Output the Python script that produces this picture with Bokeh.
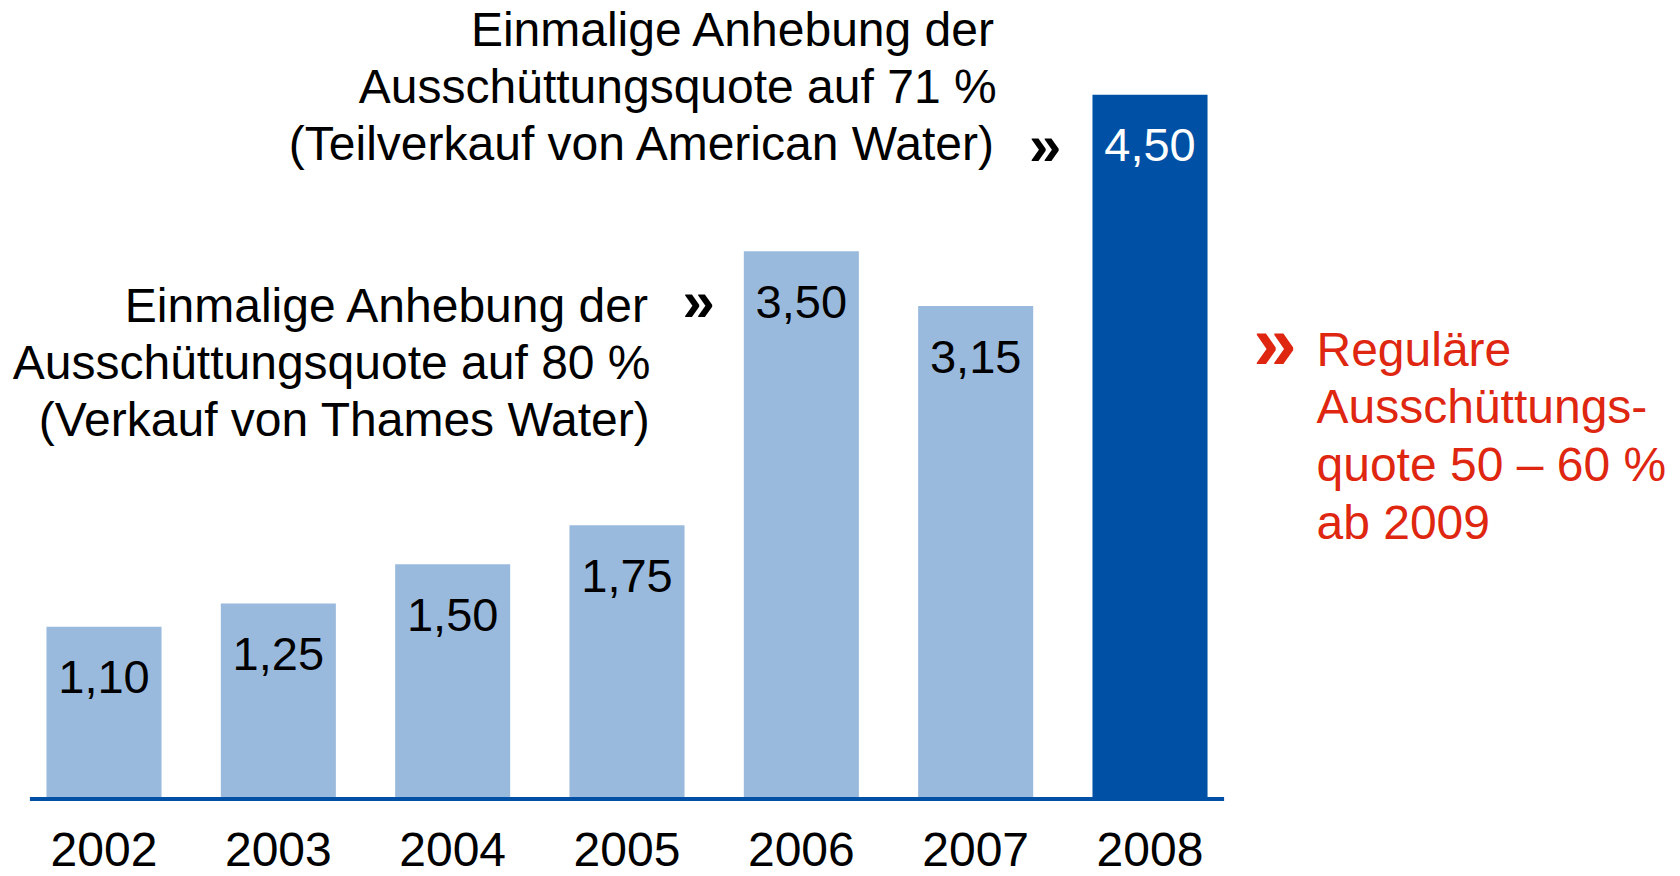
from bokeh.plotting import figure
from bokeh.models import Range1d, ColumnDataSource
from bokeh.core.properties import value
from bokeh.embed import file_html
from bokeh.resources import INLINE

# ---- data ----
years = ["2002", "2003", "2004", "2005", "2006", "2007", "2008"]
dividends = [1.10, 1.25, 1.50, 1.75, 3.50, 3.15, 4.50]
highlight = [False, False, False, False, False, False, True]

note_2008 = ["Einmalige Anhebung der", "Ausschüttungsquote auf 71 %", "(Teilverkauf von American Water)"]
note_2006 = ["Einmalige Anhebung der", "Ausschüttungsquote auf 80 %", "(Verkauf von Thames Water)"]
outlook = ["Reguläre", "Ausschüttungs-", "quote 50 – 60 %", "ab 2009"]

# ---- styles ----
FONT = value("Liberation Sans")
LIGHT = "#9ABADD"
DARK = "#0051A5"
RED = "#DE2610"
FS = "48px"
FS_VAL = "47px"

idx = list(range(len(years)))
labels = [f"{v:.2f}".replace(".", ",") for v in dividends]
bar_colors = [DARK if h else LIGHT for h in highlight]
label_colors = ["white" if h else "black" for h in highlight]

src = ColumnDataSource(dict(x=idx, top=dividends, color=bar_colors,
                            label=labels, label_color=label_colors,
                            label_y=[v - 0.323 for v in dividends],
                            year=years, year_y=[-0.325] * len(years)))

p = figure(width=1680, height=876,
           x_range=Range1d(-0.5937, 9.043), y_range=Range1d(-0.495, 5.102),
           output_backend="svg", toolbar_location=None,
           min_border_left=0, min_border_right=0, min_border_top=0, min_border_bottom=0)
p.axis.visible = False
p.grid.visible = False
p.outline_line_color = None
p.background_fill_color = "white"
p.border_fill_color = "white"

p.vbar(x="x", top="top", bottom=0, width=0.66, fill_color="color", line_color=None, source=src)
p.segment(x0=[-0.425], y0=[0], x1=[len(years) - 1 + 0.425], y1=[0], line_color=DARK, line_width=4)

p.text(x="x", y="label_y", text="label", text_color="label_color", text_font=FONT,
       text_font_size=FS_VAL, text_align="center", text_baseline="middle", source=src)
p.text(x="x", y="year_y", text="year", text_color="black", text_font=FONT,
       text_font_size=FS, text_align="center", text_baseline="middle", source=src)

STEP = 0.364
# note for 2008
p.text(x=[5.120] * 3, y=[4.917 - i * STEP for i in range(3)], text=note_2008,
       text_font=FONT, text_font_size=FS, text_align="right", text_baseline="middle", text_color="black")
p.text(x=[5.398], y=[4.179], text=["»"], text_font=FONT, text_font_size="58px",
       text_font_style="bold", text_align="center", text_baseline="middle", text_color="black")
# note for 2006
p.text(x=[3.135] * 3, y=[3.153 - i * STEP for i in range(3)], text=note_2006,
       text_font=FONT, text_font_size=FS, text_align="right", text_baseline="middle", text_color="black")
p.text(x=[3.411], y=[3.185], text=["»"], text_font=FONT, text_font_size="58px",
       text_font_style="bold", text_align="center", text_baseline="middle", text_color="black")
# outlook
p.text(x=[6.717], y=[2.917], text=["»"], text_font=FONT, text_font_size="78px",
       text_font_style="bold", text_align="center", text_baseline="middle", text_color=RED)
p.text(x=[6.955] * 4, y=[2.875 - i * 0.369 for i in range(4)], text=outlook,
       text_font=FONT, text_font_size=FS, text_align="left", text_baseline="middle", text_color=RED)

open("out.html", "w").write(file_html(p, INLINE))
